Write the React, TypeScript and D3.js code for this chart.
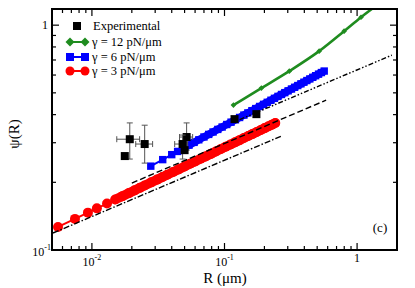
import React from 'react';
import * as d3 from 'd3';

// ---------- data ----------
// Experimental points
const expR = [0.0193, 0.0177, 0.025, 0.0518, 0.0483, 0.05, 0.119, 0.174];
const expPsi = [0.311, 0.2617, 0.296, 0.318, 0.296, 0.278, 0.382, 0.402];
const expRLo: (number | null)[] = [0.0154, null, 0.0214, 0.0458, 0.0421, null, null, null];
const expRHi: (number | null)[] = [0.0229, null, 0.0287, 0.0575, 0.0527, null, null, null];
const expPsiLo: (number | null)[] = [0.2538, null, 0.2435, 0.278, 0.2538, null, null, null];
const expPsiHi: (number | null)[] = [0.3675, null, 0.359, 0.3675, 0.3245, null, null, null];

// gamma = 12 pN/um
const g12R = [0.1168, 0.1897, 0.308, 0.5175, 0.798, 1.071, 1.41];
const g12Psi = [0.441, 0.5248, 0.6245, 0.7663, 0.9404, 1.085, 1.227];

// gamma = 6 pN/um
const g6R = [0.0278, 0.0342, 0.04, 0.0443, 0.049, 0.054, 0.059, 0.064, 0.07, 0.076, 0.082, 0.089, 0.096, 0.104, 0.112, 0.121, 0.13, 0.14, 0.15, 0.161, 0.172, 0.184, 0.197, 0.21, 0.224, 0.238, 0.253, 0.269, 0.285, 0.302, 0.32, 0.338, 0.357, 0.377, 0.397, 0.418, 0.44, 0.463, 0.487, 0.512, 0.538, 0.565];
const g6Psi = [0.236, 0.2523, 0.2655, 0.2744, 0.2835, 0.2926, 0.3011, 0.3091, 0.3182, 0.3267, 0.3349, 0.3438, 0.3523, 0.3615, 0.3703, 0.3797, 0.3885, 0.3981, 0.4071, 0.4166, 0.4256, 0.4349, 0.4446, 0.4538, 0.4635, 0.4727, 0.4822, 0.4918, 0.501, 0.5105, 0.52, 0.5293, 0.5388, 0.5483, 0.5576, 0.5671, 0.5766, 0.5862, 0.5959, 0.6056, 0.6155, 0.625];

// gamma = 3 pN/um
const g3R = [0.00555, 0.00745, 0.00933, 0.0109, 0.013, 0.015, 0.017, 0.019, 0.021, 0.023, 0.025, 0.028, 0.031, 0.034, 0.037, 0.041, 0.045, 0.05, 0.055, 0.06, 0.066, 0.072, 0.079, 0.086, 0.094, 0.102, 0.111, 0.12, 0.13, 0.14, 0.151, 0.163, 0.175, 0.188, 0.201, 0.215, 0.228, 0.2415];
const g3Psi = [0.1266, 0.1375, 0.1466, 0.1532, 0.1609, 0.1676, 0.1736, 0.1791, 0.1842, 0.189, 0.1936, 0.1999, 0.2056, 0.211, 0.2161, 0.2225, 0.2284, 0.2353, 0.2417, 0.2477, 0.2545, 0.2608, 0.2677, 0.2742, 0.2812, 0.2877, 0.2947, 0.3012, 0.308, 0.3146, 0.3214, 0.3284, 0.3351, 0.3419, 0.3484, 0.3551, 0.361, 0.367];

// power-law guide lines (start / end)
const fitR0 = [0.00509, 0.02, 0.13];
const fitPsi0 = [0.119, 0.1985, 0.38];
const fitR1 = [0.268, 0.584, 1.83];
const fitPsi1 = [0.321, 0.464, 0.7356];

const legendLabels = ['Experimental', 'γ = 12 pN/μm', 'γ = 6 pN/μm', 'γ = 3 pN/μm'];
const xMajor = [0.01, 0.1, 1];
const xMajorExp = ['-2', '-1', ''];
const yMajor = [0.1, 1];
const yMajorExp = ['-1', ''];

// ---------- layout ----------
const W = 415, H = 288;
const L = 52, R = 397, T = 9, B = 250;
const FONT = '"Liberation Serif", "Times New Roman", serif';
const GREEN = '#1f8c1f';
const BLUE = '#0000ff';
const RED = '#ff0000';

export default function App() {
  const x = d3.scaleLog().domain([0.005, 2.0]).range([L, R]);
  const y = d3.scaleLog().domain([0.1, 1.18]).range([B, T]);

  const line = d3.line<[number, number]>().x(d => x(d[0])).y(d => y(d[1]));
  const zip = (a: number[], b: number[]) => a.map((v, i) => [v, b[i]] as [number, number]);

  const xMinor: number[] = [];
  for (let e = -3; e <= 0; e++) for (let k = 2; k <= 9; k++) {
    const v = k * Math.pow(10, e);
    if (v > 0.005 && v < 2.0) xMinor.push(v);
  }
  xMinor.push(0.005);
  const yMinor: number[] = [];
  for (let k = 2; k <= 9; k++) yMinor.push(k / 10);

  const maj = 7, mnr = 4;

  const diamond = (cx: number, cy: number, r: number) =>
    `M${cx},${cy - r}L${cx + r},${cy}L${cx},${cy + r}L${cx - r},${cy}Z`;

  const legY = [26, 42, 57, 71];

  // dense parts of the simulated curves, where the markers merge into a band
  const redDense = zip(g3R, g3Psi).slice(5);
  const blueDense = zip(g6R, g6Psi).slice(4);

  return (
    <svg width={W} height={H} style={{ position: 'absolute', left: 0, top: 0, background: '#fff' }} fontFamily={FONT}>
      <defs>
        <clipPath id="plotclip"><rect x={L} y={T} width={R - L} height={B - T} /></clipPath>
      </defs>
      <rect x={0} y={0} width={W} height={H} fill="#fff" />

      <g clipPath="url(#plotclip)">
        {/* red gamma=3 */}
        <path d={line(zip(g3R, g3Psi)) || ''} fill="none" stroke={RED} strokeWidth={2} />
        <path d={line(redDense) || ''} fill="none" stroke={RED} strokeWidth={9.5} strokeLinecap="round" />
        {g3R.map((r, i) => (
          <circle key={'r' + i} cx={x(r)} cy={y(g3Psi[i])} r={5} fill={RED} />
        ))}
        {/* blue gamma=6 */}
        <path d={line(zip(g6R, g6Psi)) || ''} fill="none" stroke={BLUE} strokeWidth={2} />
        <path d={line(blueDense) || ''} fill="none" stroke={BLUE} strokeWidth={7.5} />
        {g6R.map((r, i) => (
          <rect key={'b' + i} x={x(r) - 3.7} y={y(g6Psi[i]) - 3.7} width={7.4} height={7.4} fill={BLUE} />
        ))}
        {/* green gamma=12 */}
        <path d={d3.line<[number, number]>().x(d => x(d[0])).y(d => y(d[1])).curve(d3.curveMonotoneX)(zip(g12R, g12Psi)) || ''} fill="none" stroke={GREEN} strokeWidth={2.6} />
        {g12R.map((r, i) => (
          <path key={'g' + i} d={diamond(x(r), y(g12Psi[i]), 2.8)} fill={GREEN} />
        ))}

        {/* guide lines */}
        {fitR0.map((r0, i) => (
          <line key={'f' + i} x1={x(r0)} y1={y(fitPsi0[i])} x2={x(fitR1[i])} y2={y(fitPsi1[i])}
            stroke="#000" strokeWidth={1.4}
            strokeDasharray={i === 0 ? '6,2,1.5,2' : i === 1 ? '6,3' : '5,2,1.5,2,1.5,2'} />
        ))}

        {/* experimental */}
        {expR.map((r, i) => (
          <g key={'e' + i}>
            {expRLo[i] != null && (
              <g stroke="#555" strokeWidth={1}>
                <line x1={x(expRLo[i] as number)} x2={x(expRHi[i] as number)} y1={y(expPsi[i])} y2={y(expPsi[i])} />
                <line x1={x(expRLo[i] as number)} x2={x(expRLo[i] as number)} y1={y(expPsi[i]) - 3} y2={y(expPsi[i]) + 3} />
                <line x1={x(expRHi[i] as number)} x2={x(expRHi[i] as number)} y1={y(expPsi[i]) - 3} y2={y(expPsi[i]) + 3} />
                <line x1={x(r)} x2={x(r)} y1={y(expPsiLo[i] as number)} y2={y(expPsiHi[i] as number)} />
                <line x1={x(r) - 3} x2={x(r) + 3} y1={y(expPsiLo[i] as number)} y2={y(expPsiLo[i] as number)} />
                <line x1={x(r) - 3} x2={x(r) + 3} y1={y(expPsiHi[i] as number)} y2={y(expPsiHi[i] as number)} />
              </g>
            )}
            <rect x={x(r) - 4} y={y(expPsi[i]) - 4} width={8} height={8} fill="#000" />
          </g>
        ))}
      </g>

      {/* ticks */}
      <g stroke="#000" strokeWidth={1.2}>
        {xMajor.map(v => (
          <g key={'xm' + v}>
            <line x1={x(v)} x2={x(v)} y1={B} y2={B - maj} />
            <line x1={x(v)} x2={x(v)} y1={T} y2={T + maj} />
          </g>
        ))}
        {xMinor.map(v => (
          <g key={'xn' + v}>
            <line x1={x(v)} x2={x(v)} y1={B} y2={B - mnr} />
            <line x1={x(v)} x2={x(v)} y1={T} y2={T + mnr} />
          </g>
        ))}
        {yMajor.map(v => (
          <g key={'ym' + v}>
            <line x1={L} x2={L + maj} y1={y(v)} y2={y(v)} />
            <line x1={R} x2={R - maj} y1={y(v)} y2={y(v)} />
          </g>
        ))}
        {yMinor.map(v => (
          <g key={'yn' + v}>
            <line x1={L} x2={L + mnr} y1={y(v)} y2={y(v)} />
            <line x1={R} x2={R - mnr} y1={y(v)} y2={y(v)} />
          </g>
        ))}
      </g>
      <rect x={L} y={T} width={R - L} height={B - T} fill="none" stroke="#000" strokeWidth={2} />

      {/* tick labels */}
      {xMajor.map((v, i) => (
        xMajorExp[i] ? (
          <text key={'xl' + v} x={x(v)} y={266} fontSize={12} textAnchor="middle">
            10<tspan fontSize={8} dy={-6}>{xMajorExp[i]}</tspan>
          </text>
        ) : (
          <text key={'xl' + v} x={x(v)} y={262} fontSize={12} textAnchor="middle">1</text>
        )
      ))}
      {yMajor.map((v, i) => (
        yMajorExp[i] ? (
          <text key={'yl' + v} x={L - 1} y={y(v) + 6} fontSize={12} textAnchor="end">
            10<tspan fontSize={8} dy={-6}>{yMajorExp[i]}</tspan>
          </text>
        ) : (
          <text key={'yl' + v} x={L - 4} y={y(v) + 4} fontSize={12} textAnchor="end">1</text>
        )
      ))}

      {/* axis titles */}
      <text x={225} y={283} fontSize={15} textAnchor="middle">R (μm)</text>
      <text transform={`translate(19,${134}) rotate(-90)`} fontSize={15} textAnchor="middle">ψ(R)</text>
      <text x={380} y={232} fontSize={13} textAnchor="middle">(c)</text>

      {/* legend */}
      <rect x={73} y={legY[0] - 4} width={8} height={8} fill="#000" />
      <line x1={70} x2={85} y1={legY[1]} y2={legY[1]} stroke={GREEN} strokeWidth={2} />
      <path d={diamond(70, legY[1], 4.5)} fill={GREEN} />
      <path d={diamond(85, legY[1], 4.5)} fill={GREEN} />
      <line x1={70} x2={85} y1={legY[2]} y2={legY[2]} stroke={BLUE} strokeWidth={2} />
      <rect x={66} y={legY[2] - 4} width={8} height={8} fill={BLUE} />
      <rect x={81} y={legY[2] - 4} width={8} height={8} fill={BLUE} />
      <line x1={70} x2={85} y1={legY[3]} y2={legY[3]} stroke={RED} strokeWidth={2} />
      <circle cx={70} cy={legY[3]} r={4.5} fill={RED} />
      <circle cx={85} cy={legY[3]} r={4.5} fill={RED} />
      {legendLabels.map((t, i) => (
        <text key={'lg' + i} x={i === 0 ? 93 : 92} y={legY[i] + 4} fontSize={12.5}>{t}</text>
      ))}
    </svg>
  );
}
